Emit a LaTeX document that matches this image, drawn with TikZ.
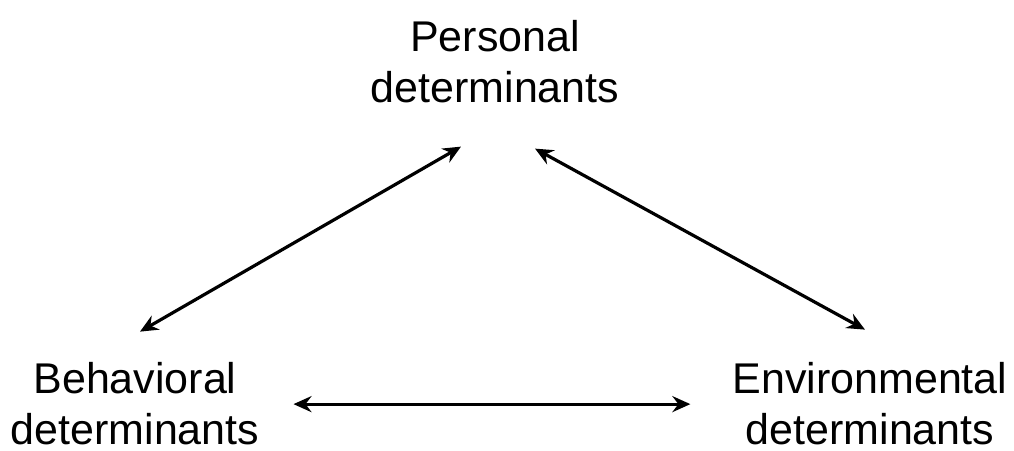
\documentclass[tikz,border=0pt]{standalone}
\usepackage{fontspec}
\setmainfont{Liberation Sans}
\usetikzlibrary{arrows.meta}

\begin{document}
\begin{tikzpicture}[x=1pt,y=1pt,
    lbl/.style={align=center,inner sep=0pt,anchor=base,font=\fontsize{43}{51}\selectfont},
    arr/.style={line width=3.2pt,{Stealth[length=18pt,width=16pt,inset=6pt]}-{Stealth[length=18pt,width=16pt,inset=6pt]}}]
    \useasboundingbox (0,0) rectangle (1014,450);
    \node[lbl] (personal) at (495,347) {Personal\\determinants};
    \node[lbl] (behav) at (135,6) {Behavioral\\determinants};
    \node[lbl] (env) at (870,6) {Environmental\\determinants};
    \draw[arr] ([xshift=5pt,yshift=30pt]behav.north) -- ([xshift=-34pt,yshift=-43pt]personal.south);
    \draw[arr] ([xshift=40pt,yshift=-45pt]personal.south) -- ([xshift=-5pt,yshift=32pt]env.north);
    \draw[arr] ([xshift=34pt,yshift=-1pt]behav.east) -- ([xshift=-42pt,yshift=-1pt]env.west);
\end{tikzpicture}
\end{document}
